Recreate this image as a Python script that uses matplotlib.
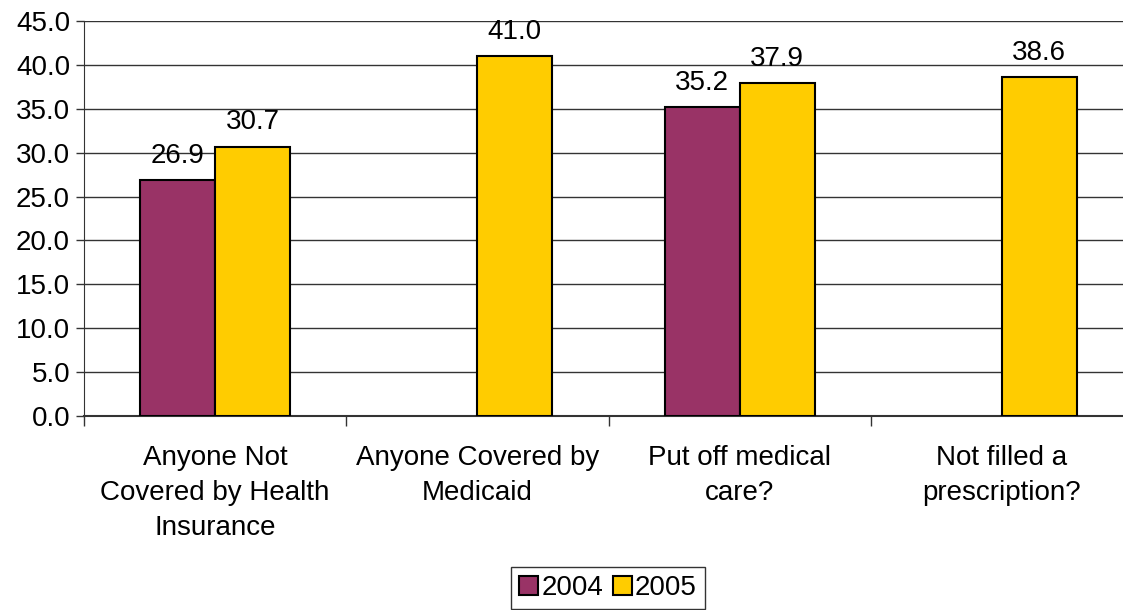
import numpy as np
import matplotlib.pyplot as plt
from matplotlib.patches import Patch

categories = ["Anyone Not\nCovered by Health\nInsurance", "Anyone Covered by\nMedicaid",
              "Put off medical\ncare?", "Not filled a\nprescription?"]
vals2004 = [26.9, np.nan, 35.2, np.nan]
vals2005 = [30.7, 41.0, 37.9, 38.6]
series = ["2004", "2005"]
colors = ["#993366", "#FFCC00"]

plt.rcParams['font.family'] = ['Liberation Sans', 'DejaVu Sans']

fig = plt.figure(figsize=(11.23, 6.10), dpi=100)
# plot area runs past the right edge of the picture, as in the original
ax = fig.add_axes([84/1123, 194/610, 1049/1123, 395/610])

x = np.arange(len(categories))
w = 0.286
b1 = ax.bar(x - w/2, vals2004, w, color=colors[0], edgecolor="black", linewidth=1.5, zorder=3)
b2 = ax.bar(x + w/2, vals2005, w, color=colors[1], edgecolor="black", linewidth=1.5, zorder=3)

for bars, vals in [(b1, vals2004), (b2, vals2005)]:
    for rect, v in zip(bars, vals):
        if np.isnan(v):
            continue
        ax.annotate("%.1f" % v, (rect.get_x() + rect.get_width()/2, v),
                    xytext=(0, 8), textcoords="offset points",
                    ha="center", va="bottom", fontsize=20)

ax.set_xlim(-0.5, 3.5)
ax.set_ylim(0, 45)
ax.set_yticks(np.arange(0, 46, 5))
ax.set_yticklabels(["%.1f" % t for t in np.arange(0, 46, 5)], fontsize=20)
ax.yaxis.grid(True, color="#333333", linewidth=1, zorder=0)
ax.tick_params(axis="y", length=6, width=1, color="#333333", pad=4)

# category boundaries get the tick marks, labels sit at group centres
ax.set_xticks(np.arange(-0.5, 3.6, 1.0))
ax.set_xticklabels([])
ax.set_xticks(x, minor=True)
ax.set_xticklabels(categories, minor=True, fontsize=20, linespacing=1.45)
ax.tick_params(axis="x", which="minor", length=0, pad=21)
ax.tick_params(axis="x", which="major", length=7, width=1, color="#333333", direction="out")

for s in ["top", "right"]:
    ax.spines[s].set_visible(False)
ax.spines["left"].set_color("#333333")
ax.spines["bottom"].set_color("#333333")
ax.spines["bottom"].set_linewidth(1.5)

handles = [Patch(facecolor=c, edgecolor="black", linewidth=1.5) for c in colors]
fig.legend(handles, series, loc="center", bbox_to_anchor=(608/1123, 22/610), ncol=2,
           fontsize=20, frameon=True, fancybox=False, edgecolor="black",
           handlelength=0.7, handleheight=0.7, handletextpad=0.1, columnspacing=0.35,
           borderpad=0.3)

fig.savefig("out.png", dpi=100)
